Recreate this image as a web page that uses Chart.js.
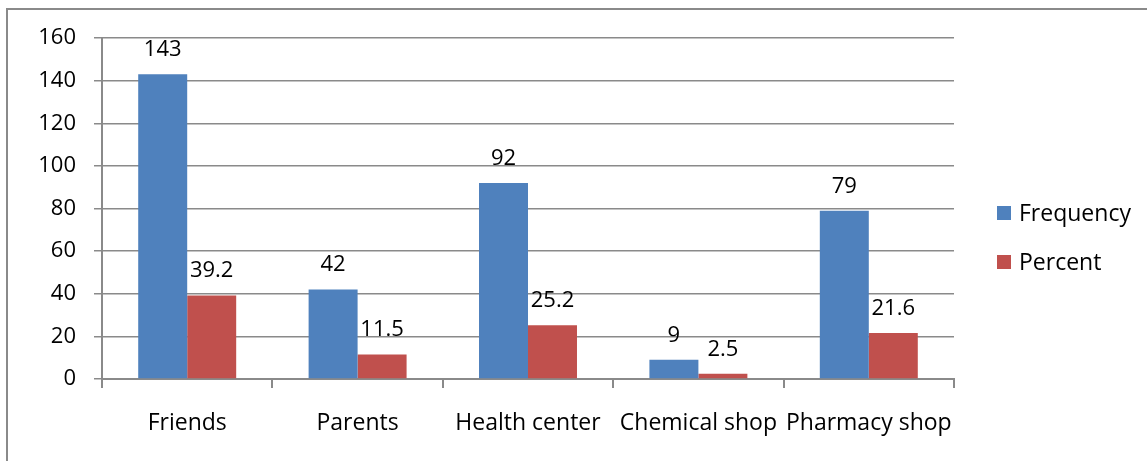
<!DOCTYPE html>
<html>
<head>
<meta charset="utf-8">
<script src="https://cdn.jsdelivr.net/npm/chart.js@4/dist/chart.umd.min.js"></script>
<style>
  html, body { margin: 0; padding: 0; background: #fff; overflow: hidden; }
  #wrap { position: relative; width: 1147px; height: 461px; }
  #frame { position: absolute; left: 6px; top: 8px; width: 1300px; height: 600px;
           border-left: 2px solid #8a8a8a; border-top: 2px solid #8a8a8a; }
  canvas { position: absolute; left: 0; top: 0; }
</style>
</head>
<body>
<div id="wrap">
  <div id="frame"></div>
  <canvas id="chart" width="1147" height="461"></canvas>
</div>
<script>
const categories = ['Friends', 'Parents', 'Health center', 'Chemical shop', 'Pharmacy shop'];
const frequency = [143, 42, 92, 9, 79];
const percent = [39.2, 11.5, 25.2, 2.5, 21.6];
const seriesNames = ['Frequency', 'Percent'];
const seriesColors = ['#4f81bd', '#c0504d'];

const fontFamily = '"Open Sans", sans-serif';

// value labels above each bar
const barLabels = {
    id: 'barLabels',
    afterDatasetsDraw(chart) {
        const ctx = chart.ctx;
        ctx.save();
        ctx.fillStyle = '#000';
        ctx.font = '22px ' + fontFamily;
        ctx.textAlign = 'center';
        ctx.textBaseline = 'alphabetic';
        chart.data.datasets.forEach((ds, i) => {
            chart.getDatasetMeta(i).data.forEach((bar, j) => {
                ctx.fillText(String(ds.data[j]), bar.x, bar.y - 18);
            });
        });
        ctx.restore();
    }
};

// legend at the right, squares + names
const sideLegend = {
    id: 'sideLegend',
    afterDraw(chart) {
        const ctx = chart.ctx;
        ctx.save();
        ctx.font = '23px ' + fontFamily;
        ctx.textBaseline = 'middle';
        ctx.textAlign = 'left';
        chart.data.datasets.forEach((ds, i) => {
            const y = 213 + i * 49;
            ctx.fillStyle = ds.backgroundColor;
            ctx.fillRect(997, y - 7, 14, 14);
            ctx.fillStyle = '#000';
            ctx.fillText(ds.label, 1019, y + 1);
        });
        ctx.restore();
    }
};

const data = {
    labels: categories,
    datasets: [frequency, percent].map((values, i) => ({
        label: seriesNames[i],
        data: values,
        backgroundColor: seriesColors[i],
        borderWidth: 0,
        barPercentage: 1,
        categoryPercentage: 0.575
    }))
};

new Chart('chart', {
    type: 'bar',
    data: data,
    plugins: [barLabels, sideLegend],
    options: {
        responsive: false,
        animation: false,
        devicePixelRatio: 1,
        layout: { padding: { top: 38, right: 193, left: 0, bottom: 0 } },
        plugins: {
            legend: { display: false },
            tooltip: { enabled: false }
        },
        scales: {
            x: {
                afterFit(scale) { scale.height = 461 - 379; },
                grid: {
                    offset: true,
                    drawOnChartArea: false,
                    drawTicks: true,
                    tickLength: 9,
                    color: '#8a8a8a',
                    lineWidth: 2
                },
                border: { color: '#8a8a8a', width: 2 },
                ticks: {
                    color: '#000',
                    font: { size: 23, family: fontFamily },
                    padding: 22,
                    maxRotation: 0,
                    autoSkip: false
                }
            },
            y: {
                min: 0,
                max: 160,
                afterFit(scale) { scale.width = 102; },
                grid: {
                    color: '#8a8a8a',
                    lineWidth: 1.5,
                    tickLength: 8
                },
                border: { color: '#8a8a8a', width: 2 },
                ticks: {
                    stepSize: 20,
                    color: '#000',
                    font: { size: 22, family: fontFamily },
                    padding: 18
                }
            }
        }
    }
});
</script>
</body>
</html>
